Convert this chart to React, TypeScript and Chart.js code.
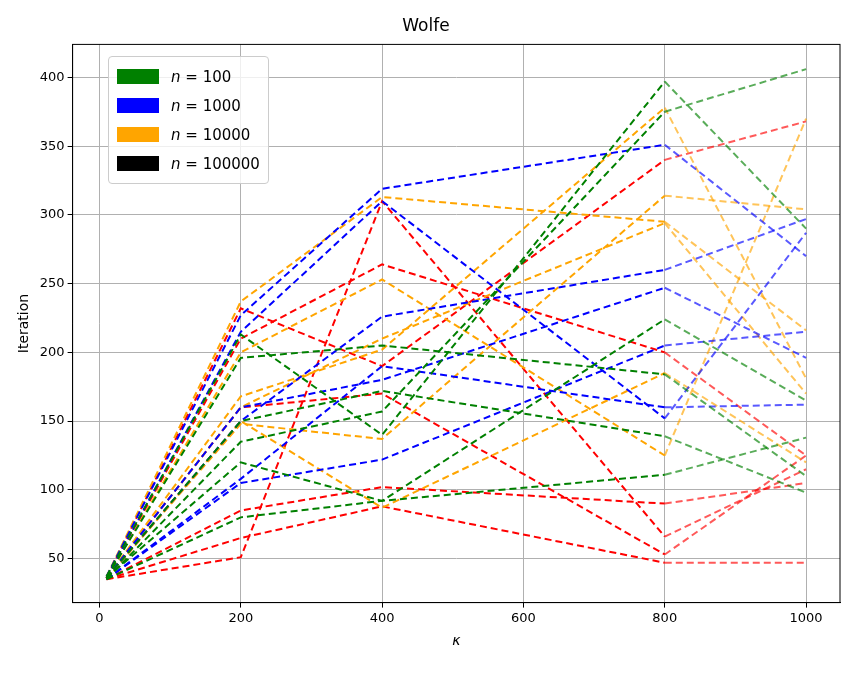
import { Chart, registerables } from "chart.js";
import { useEffect, useRef } from "react";

Chart.register(...registerables);

const kappa = [10, 200, 400, 800, 1000];
const xTicks = [0, 200, 400, 600, 800, 1000];
const yTicks = [50, 100, 150, 200, 250, 300, 350, 400];

const greenRuns = [
    [37, 213, 140, 397, 290],
    [36, 196, 205, 184, 110],
    [35, 135, 157, 375, 406],
    [36, 120, 92, 224, 165],
    [35, 80, 92, 111, 138],
    [36, 150, 172, 139, 98],
];
const blueRuns = [
    [37, 227, 319, 351, 270],
    [36, 215, 310, 152, 287],
    [36, 150, 226, 260, 297],
    [35, 105, 122, 205, 215],
    [36, 160, 180, 247, 196],
    [35, 108, 190, 160, 162],
];
const orangeRuns = [
    [37, 237, 313, 295, 216],
    [36, 200, 253, 125, 370],
    [36, 168, 202, 378, 181],
    [35, 150, 87, 185, 120],
    [36, 148, 137, 314, 304],
    [36, 160, 210, 294, 170],
];
const redRuns = [
    [36, 232, 190, 340, 368],
    [36, 210, 264, 200, 125],
    [35, 51, 310, 66, 115],
    [35, 85, 102, 90, 105],
    [35, 65, 88, 47, 47],
    [36, 160, 170, 53, 125],
];

const legendItems = [
    { label: "100", color: "green" },
    { label: "1000", color: "blue" },
    { label: "10000", color: "orange" },
    { label: "100000", color: "black" },
];

const groups = [
    { runs: greenRuns, color: "rgb(0,128,0)", fade: "rgba(0,128,0,0.65)" },
    { runs: blueRuns, color: "rgb(0,0,255)", fade: "rgba(0,0,255,0.65)" },
    { runs: orangeRuns, color: "rgb(255,165,0)", fade: "rgba(255,165,0,0.65)" },
    { runs: redRuns, color: "rgb(255,0,0)", fade: "rgba(255,0,0,0.65)" },
];

const frame = {
    id: "frame",
    afterDraw(chart: Chart) {
        const { ctx, chartArea: a } = chart;
        ctx.save();
        ctx.strokeStyle = "#000";
        ctx.lineWidth = 1;
        ctx.strokeRect(a.left, a.top, a.right - a.left, a.bottom - a.top);
        ctx.restore();
    },
};

const App = () => {
    const chartRef = useRef<HTMLCanvasElement>(null);

    useEffect(() => {
        if (!chartRef.current) return;
        const datasets = groups.flatMap((g) =>
            g.runs.map((run) => ({
                data: run.map((y, i) => ({ x: kappa[i], y })),
                borderColor: g.color,
                borderWidth: 2,
                borderDash: [7, 4],
                pointRadius: 0,
                tension: 0,
                segment: {
                    borderColor: (c: any) => (c.p0DataIndex === 3 ? g.fade : undefined),
                },
            }))
        );
        const tickFont = { family: "DejaVu Sans", size: 13 };
        const chart = new Chart(chartRef.current, {
            type: "line",
            data: { datasets },
            options: {
                animation: false,
                responsive: false,
                layout: { padding: { top: 10, right: 16, left: 12, bottom: 24 } },
                plugins: {
                    legend: { display: false },
                    tooltip: { enabled: false },
                    title: {
                        display: true,
                        text: "Wolfe",
                        color: "#000",
                        font: { family: "DejaVu Sans", size: 17, weight: "normal" },
                        padding: { top: 6, bottom: 8 },
                    },
                },
                scales: {
                    x: {
                        type: "linear",
                        min: -38,
                        max: 1048,
                        afterBuildTicks: (ax: any) => { ax.ticks = xTicks.map((v) => ({ value: v })); },
                        grid: { color: "#b0b0b0", tickColor: "#000", tickLength: 5 },
                        border: { color: "#000" },
                        ticks: { color: "#000", font: tickFont, callback: (v: any) => String(v) },
                        title: { display: true, text: "κ", color: "#000", font: { family: "DejaVu Sans", size: 14, style: "italic" } },
                    },
                    y: {
                        min: 18,
                        max: 424,
                        afterBuildTicks: (ax: any) => { ax.ticks = yTicks.map((v) => ({ value: v })); },
                        grid: { color: "#b0b0b0", tickColor: "#000", tickLength: 5 },
                        border: { color: "#000" },
                        ticks: { color: "#000", font: tickFont, callback: (v: any) => String(v) },
                        title: { display: true, text: "Iteration", color: "#000", font: { family: "DejaVu Sans", size: 14 } },
                    },
                },
            },
            plugins: [frame],
        });
        return () => {
            chart.destroy();
        };
    }, []);

    return (
        <div style={{ position: "absolute", left: 0, top: 0, width: 856, height: 678, background: "#fff" }}>
            <canvas ref={chartRef} width={856} height={678} />
            <div
                style={{
                    position: "absolute",
                    left: 108,
                    top: 56,
                    padding: "5px 8px",
                    border: "1px solid #ccc",
                    borderRadius: 4,
                    background: "rgba(255,255,255,0.8)",
                    fontFamily: "DejaVu Sans",
                    fontSize: 15,
                }}
            >
                {legendItems.map((it) => (
                    <div key={it.label} style={{ display: "flex", alignItems: "center", height: 29 }}>
                        <span style={{ display: "inline-block", width: 42, height: 15, background: it.color, marginRight: 12 }} />
                        <span>
                            <i>n</i> = {it.label}
                        </span>
                    </div>
                ))}
            </div>
        </div>
    );
};

export default App;
